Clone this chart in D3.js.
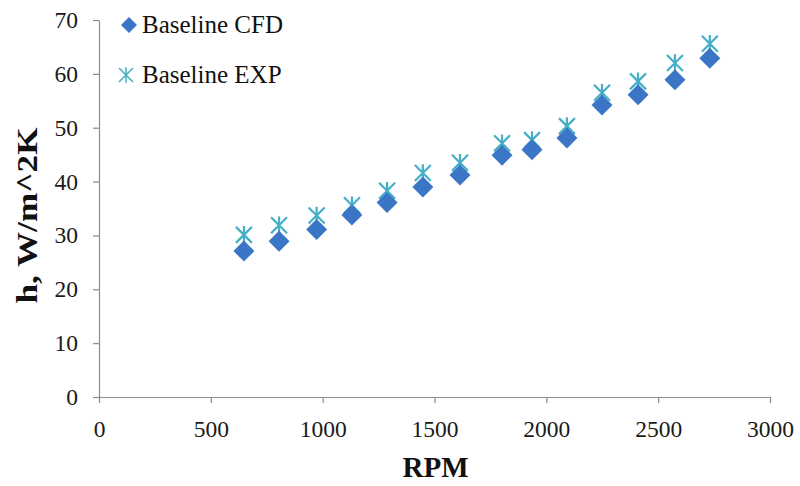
<!DOCTYPE html>
<html>
<head>
<meta charset="utf-8">
<script src="https://cdn.jsdelivr.net/npm/d3@7"></script>
<style>
  body { margin: 0; background: #fff; }
  svg { font-family: "Liberation Serif", "Times New Roman", serif; }
</style>
</head>
<body>
<svg id="chart" width="800" height="486"></svg>
<script>
// rpm values and heat transfer coefficient
const rpm = [648, 805, 973, 1131, 1288, 1448, 1614, 1802, 1936, 2092, 2249, 2410, 2575, 2731];
const cfd = [27.1, 28.9, 31.1, 33.8, 36.1, 39.0, 41.2, 44.9, 45.9, 48.1, 54.2, 56.1, 58.9, 62.9];
const exp = [30.1, 31.9, 33.7, 35.6, 38.3, 41.6, 43.5, 47.1, 47.7, 50.3, 56.5, 58.6, 62.0, 65.6];
const xTicks = [0, 500, 1000, 1500, 2000, 2500, 3000];
const yTicks = [0, 10, 20, 30, 40, 50, 60, 70];
const seriesNames = ['Baseline CFD', 'Baseline EXP'];

const svg = d3.select('#chart');
const margin = { top: 20, right: 30, bottom: 89, left: 99 };
const width = 800 - margin.left - margin.right;
const height = 486 - margin.top - margin.bottom;

const g = svg.append('g').attr('transform', `translate(${margin.left},${margin.top})`);

const x = d3.scaleLinear().domain([0, 3000]).range([0, width]);
const y = d3.scaleLinear().domain([0, 70]).range([height, 0]);

const axisColor = '#8c8c8c';
const diamondColor = '#3b76c6';
const starColor = '#45afc6';

// axes
const xAxis = g.append('g')
  .attr('transform', `translate(0,${height})`)
  .call(d3.axisBottom(x).tickValues(xTicks).tickFormat(d3.format('d'))
    .tickSize(6).tickSizeOuter(0).tickPadding(17));
const yAxis = g.append('g')
  .call(d3.axisLeft(y).tickValues(yTicks).tickFormat(d3.format('d'))
    .tickSize(6).tickSizeOuter(0).tickPadding(15));

[xAxis, yAxis].forEach(a => {
  a.selectAll('path, line').attr('stroke', axisColor).attr('stroke-width', 1.2);
  a.selectAll('text')
    .attr('fill', '#1a1a1a')
    .style('font-family', '"Liberation Serif", serif')
    .style('font-size', '23.5px');
});

// axis titles
g.append('text')
  .attr('x', width / 2 + 1).attr('y', height + 80)
  .attr('text-anchor', 'middle')
  .style('font-size', '29px').style('font-weight', 'bold')
  .attr('fill', '#111')
  .text('RPM');

g.append('text')
  .attr('transform', `translate(${-62},${height / 2 + 7}) rotate(-90)`)
  .attr('text-anchor', 'middle')
  .attr('textLength', 176).attr('lengthAdjust', 'spacingAndGlyphs')
  .style('font-size', '29px').style('font-weight', 'bold')
  .attr('fill', '#111')
  .text('h, W/m^2K');

// marker shapes
const diamond = s => `M0,${-s}L${s},0L0,${s}L${-s},0Z`;
const star = s => `M${-s},${-s}L${s},${s}M${-s},${s}L${s},${-s}M0,${-s * 1.1}L0,${s * 1.1}`;

// EXP markers (drawn under CFD like the original)
g.selectAll('.exp')
  .data(rpm.map((r, i) => ({ r, v: exp[i] })))
  .enter().append('path')
  .attr('class', 'exp')
  .attr('transform', d => `translate(${x(d.r)},${y(d.v)})`)
  .attr('d', star(8))
  .attr('fill', 'none')
  .attr('stroke', starColor)
  .attr('stroke-width', 2.2);

g.selectAll('.cfd')
  .data(rpm.map((r, i) => ({ r, v: cfd[i] })))
  .enter().append('path')
  .attr('class', 'cfd')
  .attr('transform', d => `translate(${x(d.r)},${y(d.v)})`)
  .attr('d', diamond(10.5))
  .attr('fill', diamondColor);

// legend
const legend = g.append('g').attr('transform', 'translate(30,5)');
legend.append('path').attr('d', diamond(8)).attr('fill', diamondColor);
legend.append('path').attr('transform', 'translate(-3,50)').attr('d', star(7))
  .attr('fill', 'none').attr('stroke', starColor).attr('stroke-width', 1.5);
seriesNames.forEach((n, i) => {
  legend.append('text')
    .attr('x', 13).attr('y', i * 50 + 8)
    .style('font-size', '25px')
    .attr('fill', '#111')
    .text(n);
});
</script>
</body>
</html>
